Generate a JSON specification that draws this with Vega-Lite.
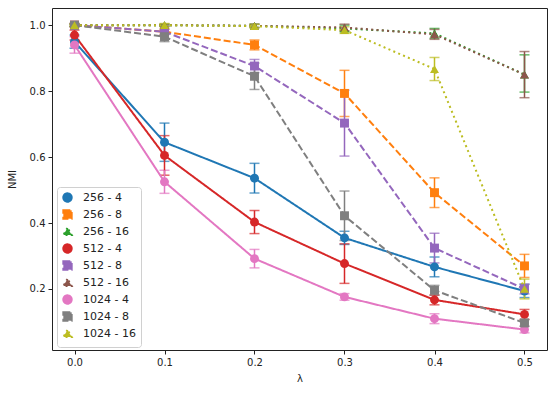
{
  "$schema": "https://vega.github.io/schema/vega-lite/v6.json",
  "autosize": {"type": "none"},
  "padding": {"left": 52, "top": 8, "right": 3, "bottom": 46},
  "width": 495,
  "height": 342,
  "background": "white",
  "config": {
    "font": "DejaVu Sans",
    "view": {"stroke": "#222", "strokeWidth": 1},
    "axis": {"grid": false, "domain": false, "tickColor": "#222", "tickSize": 4, "labelFontSize": 10, "labelColor": "#222", "titleFontSize": 10, "titleFontWeight": "normal", "titleColor": "#222", "labelPadding": 3},
    "legend": {"orient": "none", "legendX": 5, "legendY": 179, "padding": 5, "strokeColor": "#d0d0d0", "fillColor": "white", "cornerRadius": 3, "labelFontSize": 11, "labelColor": "#222", "symbolSize": 70, "rowPadding": 0, "labelOffset": 10, "symbolStrokeWidth": 2, "symbolOpacity": 1}
  },
  "data": {"values": [
    {"series": "256 - 4", "lam": 0.0, "nmi": 0.95, "lo": 0.93, "hi": 0.97},
    {"series": "256 - 4", "lam": 0.1, "nmi": 0.645, "lo": 0.587, "hi": 0.703},
    {"series": "256 - 4", "lam": 0.2, "nmi": 0.536, "lo": 0.491, "hi": 0.581},
    {"series": "256 - 4", "lam": 0.3, "nmi": 0.355, "lo": 0.335, "hi": 0.375},
    {"series": "256 - 4", "lam": 0.4, "nmi": 0.267, "lo": 0.237, "hi": 0.297},
    {"series": "256 - 4", "lam": 0.5, "nmi": 0.194, "lo": 0.174, "hi": 0.214},
    {"series": "256 - 8", "lam": 0.0, "nmi": 1.0, "lo": 0.995, "hi": 1.005},
    {"series": "256 - 8", "lam": 0.1, "nmi": 0.98, "lo": 0.972, "hi": 0.988},
    {"series": "256 - 8", "lam": 0.2, "nmi": 0.94, "lo": 0.925, "hi": 0.955},
    {"series": "256 - 8", "lam": 0.3, "nmi": 0.793, "lo": 0.723, "hi": 0.863},
    {"series": "256 - 8", "lam": 0.4, "nmi": 0.492, "lo": 0.447, "hi": 0.537},
    {"series": "256 - 8", "lam": 0.5, "nmi": 0.27, "lo": 0.235, "hi": 0.305},
    {"series": "256 - 16", "lam": 0.0, "nmi": 1.0, "lo": 0.997, "hi": 1.003},
    {"series": "256 - 16", "lam": 0.1, "nmi": 1.0, "lo": 0.997, "hi": 1.003},
    {"series": "256 - 16", "lam": 0.2, "nmi": 0.998, "lo": 0.993, "hi": 1.003},
    {"series": "256 - 16", "lam": 0.3, "nmi": 0.99, "lo": 0.98, "hi": 1.0},
    {"series": "256 - 16", "lam": 0.4, "nmi": 0.975, "lo": 0.96, "hi": 0.99},
    {"series": "256 - 16", "lam": 0.5, "nmi": 0.85, "lo": 0.797, "hi": 0.91},
    {"series": "512 - 4", "lam": 0.0, "nmi": 0.97, "lo": 0.955, "hi": 0.985},
    {"series": "512 - 4", "lam": 0.1, "nmi": 0.605, "lo": 0.545, "hi": 0.665},
    {"series": "512 - 4", "lam": 0.2, "nmi": 0.403, "lo": 0.368, "hi": 0.438},
    {"series": "512 - 4", "lam": 0.3, "nmi": 0.277, "lo": 0.217, "hi": 0.337},
    {"series": "512 - 4", "lam": 0.4, "nmi": 0.167, "lo": 0.152, "hi": 0.182},
    {"series": "512 - 4", "lam": 0.5, "nmi": 0.123, "lo": 0.108, "hi": 0.138},
    {"series": "512 - 8", "lam": 0.0, "nmi": 1.0, "lo": 0.995, "hi": 1.005},
    {"series": "512 - 8", "lam": 0.1, "nmi": 0.98, "lo": 0.972, "hi": 0.988},
    {"series": "512 - 8", "lam": 0.2, "nmi": 0.876, "lo": 0.856, "hi": 0.896},
    {"series": "512 - 8", "lam": 0.3, "nmi": 0.703, "lo": 0.603, "hi": 0.803},
    {"series": "512 - 8", "lam": 0.4, "nmi": 0.324, "lo": 0.279, "hi": 0.369},
    {"series": "512 - 8", "lam": 0.5, "nmi": 0.2, "lo": 0.185, "hi": 0.215},
    {"series": "512 - 16", "lam": 0.0, "nmi": 1.0, "lo": 0.997, "hi": 1.003},
    {"series": "512 - 16", "lam": 0.1, "nmi": 1.0, "lo": 0.997, "hi": 1.003},
    {"series": "512 - 16", "lam": 0.2, "nmi": 0.998, "lo": 0.993, "hi": 1.003},
    {"series": "512 - 16", "lam": 0.3, "nmi": 0.993, "lo": 0.983, "hi": 1.003},
    {"series": "512 - 16", "lam": 0.4, "nmi": 0.972, "lo": 0.957, "hi": 0.987},
    {"series": "512 - 16", "lam": 0.5, "nmi": 0.85, "lo": 0.78, "hi": 0.92},
    {"series": "1024 - 4", "lam": 0.0, "nmi": 0.94, "lo": 0.915, "hi": 0.965},
    {"series": "1024 - 4", "lam": 0.1, "nmi": 0.525, "lo": 0.49, "hi": 0.56},
    {"series": "1024 - 4", "lam": 0.2, "nmi": 0.292, "lo": 0.264, "hi": 0.32},
    {"series": "1024 - 4", "lam": 0.3, "nmi": 0.176, "lo": 0.166, "hi": 0.186},
    {"series": "1024 - 4", "lam": 0.4, "nmi": 0.11, "lo": 0.095, "hi": 0.125},
    {"series": "1024 - 4", "lam": 0.5, "nmi": 0.077, "lo": 0.067, "hi": 0.087},
    {"series": "1024 - 8", "lam": 0.0, "nmi": 1.0, "lo": 0.995, "hi": 1.005},
    {"series": "1024 - 8", "lam": 0.1, "nmi": 0.965, "lo": 0.95, "hi": 0.98},
    {"series": "1024 - 8", "lam": 0.2, "nmi": 0.845, "lo": 0.805, "hi": 0.885},
    {"series": "1024 - 8", "lam": 0.3, "nmi": 0.422, "lo": 0.347, "hi": 0.497},
    {"series": "1024 - 8", "lam": 0.4, "nmi": 0.196, "lo": 0.181, "hi": 0.211},
    {"series": "1024 - 8", "lam": 0.5, "nmi": 0.097, "lo": 0.087, "hi": 0.107},
    {"series": "1024 - 16", "lam": 0.0, "nmi": 1.0, "lo": 0.997, "hi": 1.003},
    {"series": "1024 - 16", "lam": 0.1, "nmi": 1.0, "lo": 0.995, "hi": 1.005},
    {"series": "1024 - 16", "lam": 0.2, "nmi": 0.997, "lo": 0.992, "hi": 1.002},
    {"series": "1024 - 16", "lam": 0.3, "nmi": 0.985, "lo": 0.975, "hi": 0.995},
    {"series": "1024 - 16", "lam": 0.4, "nmi": 0.867, "lo": 0.832, "hi": 0.902},
    {"series": "1024 - 16", "lam": 0.5, "nmi": 0.2, "lo": 0.17, "hi": 0.23}
  ]},
  "encoding": {
    "x": {"field": "lam", "type": "quantitative", "title": "λ",
      "scale": {"domain": [-0.025, 0.525], "nice": false, "zero": false},
      "axis": {"values": [0, 0.1, 0.2, 0.3, 0.4, 0.5], "format": ".1f", "titlePadding": 6}},
    "y": {"field": "nmi", "type": "quantitative", "title": "NMI",
      "scale": {"domain": [0.015, 1.052], "nice": false, "zero": false},
      "axis": {"values": [0.2, 0.4, 0.6, 0.8, 1.0], "format": ".1f", "titlePadding": 12}},
    "color": {"field": "series", "type": "nominal", "title": null,
      "scale": {"domain": ["256 - 4", "256 - 8", "256 - 16", "512 - 4", "512 - 8", "512 - 16", "1024 - 4", "1024 - 8", "1024 - 16"],
        "range": ["#1f77b4", "#ff7f0e", "#2ca02c", "#d62728", "#9467bd", "#8c564b", "#e377c2", "#7f7f7f", "#bcbd22"]}}
  },
  "layer": [
    {
      "mark": {"type": "errorbar", "ticks": {"size": 10, "thickness": 1.5}, "rule": {"strokeWidth": 1.5}},
      "encoding": {
        "y": {"field": "lo", "type": "quantitative", "title": "NMI"},
        "y2": {"field": "hi"}
      }
    },
    {
      "mark": {"type": "line", "strokeWidth": 2, "strokeCap": "butt"},
      "encoding": {
        "strokeDash": {"field": "series", "type": "nominal", "title": null,
          "scale": {"domain": ["256 - 4", "256 - 8", "256 - 16", "512 - 4", "512 - 8", "512 - 16", "1024 - 4", "1024 - 8", "1024 - 16"],
            "range": [[1, 0], [7, 3], [2, 3.3], [1, 0], [7, 3], [2, 3.3], [1, 0], [7, 3], [2, 3.3]]}}
      }
    },
    {
      "mark": {"type": "point", "filled": true, "opacity": 1, "size": 80},
      "encoding": {
        "shape": {"field": "series", "type": "nominal", "title": null,
          "scale": {"domain": ["256 - 4", "256 - 8", "256 - 16", "512 - 4", "512 - 8", "512 - 16", "1024 - 4", "1024 - 8", "1024 - 16"],
            "range": ["circle", "square", "triangle-up", "circle", "square", "triangle-up", "circle", "square", "triangle-up"]}}
      }
    }
  ]
}
